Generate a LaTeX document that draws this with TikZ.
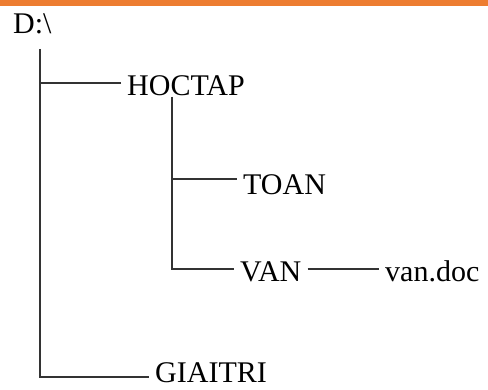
\documentclass[tikz,border=0pt]{standalone}
\usepackage{fontspec}
\setmainfont{Liberation Serif}
\usepackage{tikz}
\definecolor{barorange}{HTML}{ED7D31}
\tikzset{
  dir/.style={inner xsep=6pt, inner ysep=0pt, anchor=base west, font=\fontsize{30}{36}\selectfont},
  branch/.style={line width=1.3pt, black!80}
}

\begin{document}
\begin{tikzpicture}[x=1pt,y=-1pt]
\useasboundingbox (0,0) rectangle (488,390);
%\draw [help lines, step=50] (0,0) grid (488,390);
\fill [barorange] (0,0) rectangle (488,6.5);
\node [dir] (root) at (7,34) {D:\textbackslash};
\node [dir] (hoctap) at (121,96) {HOCTAP};
\node [dir] (toan) at (237,195) {TOAN};
\node [dir] (van) at (234,282) {VAN};
\node [dir] (vandoc) at (379,282) {van.doc};
\node [dir] (giaitri) at (149,383) {GIAITRI};
% trunk of D:\
\coordinate (trunk) at (40,49);
\draw [branch] (trunk) |- ([yshift=6pt]giaitri.base west);
\draw [branch] ([yshift=13pt]hoctap.base west) -| (trunk);
% sub folders of HOCTAP
\coordinate (sub) at (172,97);
\draw [branch] (sub) |- ([yshift=16pt]toan.base west);
\draw [branch] (sub) |- ([yshift=13pt]van.base west);
\draw [branch] ([yshift=13pt]van.base east) -- ([yshift=13pt]vandoc.base west);
\end{tikzpicture}
\end{document}
